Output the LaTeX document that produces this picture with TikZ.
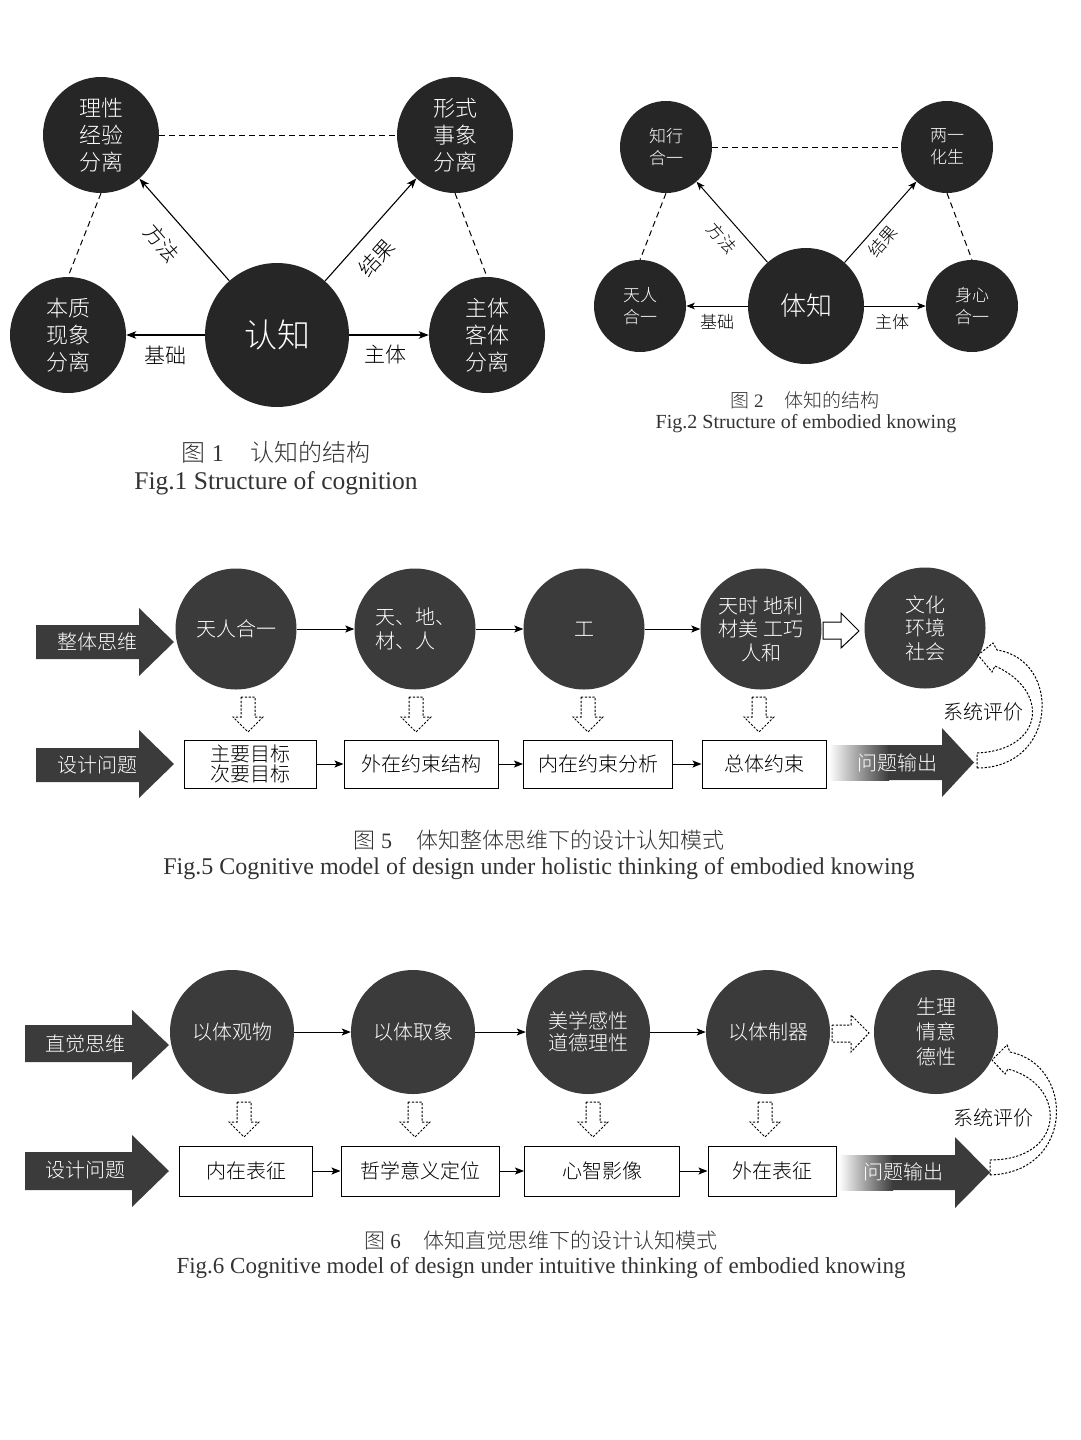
\documentclass[tikz,border=0pt]{standalone}
\usepackage{fontspec}
\usetikzlibrary{arrows.meta}
\setmainfont{Liberation Serif}
\IfFontExistsTF{Noto Sans CJK SC Light}
  {\newfontfamily\cjk{Noto Sans CJK SC Light}}
  {\newfontfamily\cjk{Noto Sans CJK SC}}
\newcommand\fs[2]{\fontsize{#1}{#2}\selectfont}
\definecolor{ink}{HTML}{262626}
\definecolor{disc}{HTML}{3B3B3B}
\definecolor{captxt}{HTML}{333333}

% hollow downward arrow with a dotted outline: centre x, top y
\newcommand\dnarrow[2]{%
  \draw[dotline] (#1-7,#2) -- (#1+7,#2) -- (#1+7,#2+20) -- (#1+15,#2+20)
    -- (#1,#2+35) -- (#1-15,#2+20) -- (#1-7,#2+20) -- cycle;}

\begin{document}
\begin{tikzpicture}[x=1pt,y=-1pt,
  disc1/.style={circle, fill=ink, text=white, inner sep=0pt, minimum size=116pt,
    align=center, font=\cjk\fs{22}{27}},
  disc2/.style={circle, fill=ink, text=white, inner sep=0pt, minimum size=92pt,
    align=center, font=\cjk\fs{17}{22}},
  disc5/.style={circle, fill=disc, text=white, inner sep=0pt, minimum size=121pt,
    align=center, font=\cjk\fs{20}{23.5}},
  lab1/.style={font=\cjk\fs{21}{24}, inner sep=0pt},
  lab2/.style={font=\cjk\fs{17}{20}, inner sep=0pt},
  lab5/.style={font=\cjk\fs{20}{22}, inner sep=1pt},
  whitelab/.style={font=\cjk\fs{20}{22}, text=white, inner sep=1pt},
  stepbox/.style={draw=black, line width=1pt, fill=white, inner sep=0pt,
    align=center, font=\cjk\fs{20}{20.5}},
  link1/.style={-{Stealth[length=10pt,width=7.5pt,inset=2.5pt]}, line width=1.1pt},
  link2/.style={-{Stealth[length=8.5pt,width=6.5pt,inset=2pt]}, line width=1pt},
  link5/.style={-{Stealth[length=9pt,width=7pt,inset=2pt]}, line width=1pt},
  dashlink/.style={line width=1pt, dash pattern=on 6pt off 4pt},
  dotline/.style={line width=1pt, dash pattern=on 2.2pt off 1.6pt},
  capzh/.style={text=captxt, inner sep=0pt},
  capen/.style={text=captxt, inner sep=0pt},
]
\useasboundingbox (0,0) rectangle (1080,1440);
\fill[white] (0,0) rectangle (1080,1440);

% ---------------- Fig. 1: structure of cognition ----------------
\node[disc1] (f1a) at (101,135) {理性\\经验\\分离};
\node[disc1] (f1b) at (455,135) {形式\\事象\\分离};
\node[disc1] (f1c) at (68,335) {本质\\现象\\分离};
\node[disc1, minimum size=144pt, font=\cjk\fs{33}{36}] (f1o) at (277,335) {认知};
\node[disc1] (f1d) at (487,335) {主体\\客体\\分离};
\draw[dashlink] (f1a) -- (f1b);
\draw[dashlink] (f1a.south) -- (f1c.north);
\draw[dashlink] (f1b.south) -- (f1d.north);
\draw[link1] (f1o) -- (f1a);
\draw[link1] (f1o) -- (f1b);
\draw[link1] (f1o) -- (f1c);
\draw[link1] (f1o) -- (f1d);
\node[lab1, rotate=-49] (l1a) at (162,243) {方法};
\node[lab1, rotate=48] (l1b) at (377,258) {结果};
\node[lab1] (l1c) at (165,355) {基础};
\node[lab1] (l1d) at (385,355) {主体};
\node[capzh] (k1a) at (276,452) {\fs{24}{28}{\cjk 图} 1\hspace{1.1em}{\cjk 认知的结构}};
\node[capen] (k1b) at (276,483) {\fs{25.5}{30}Fig.1 Structure of cognition};

% ---------------- Fig. 2: structure of embodied knowing ----------------
\node[disc2] (f2a) at (666,147) {知行\\合一};
\node[disc2] (f2b) at (947,147) {两一\\化生};
\node[disc2] (f2c) at (640,306) {天人\\合一};
\node[disc2, minimum size=116pt, font=\cjk\fs{26}{30}] (f2o) at (806,306) {体知};
\node[disc2] (f2d) at (972,306) {身心\\合一};
\draw[dashlink] (f2a) -- (f2b);
\draw[dashlink] (f2a.south) -- (f2c.north);
\draw[dashlink] (f2b.south) -- (f2d.north);
\draw[link2] (f2o) -- (f2a);
\draw[link2] (f2o) -- (f2b);
\draw[link2] (f2o) -- (f2c);
\draw[link2] (f2o) -- (f2d);
\node[lab2, rotate=-49] (l2a) at (722,238) {方法};
\node[lab2, rotate=49] (l2b) at (883,241) {结果};
\node[lab2] (l2c) at (717,322) {基础};
\node[lab2] (l2d) at (892,322) {主体};
\node[capzh] (k2a) at (805,400) {\fs{19}{22}{\cjk 图} 2\hspace{1.1em}{\cjk 体知的结构}};
\node[capen] (k2b) at (806,424) {\fs{20}{24}Fig.2 Structure of embodied knowing};

% ---------------- Fig. 5: holistic thinking ----------------
\fill[disc] (36,625) -- (139,625) -- (139,608) -- (174,642) -- (139,676) -- (139,659) -- (36,659) -- cycle;
\node[whitelab] (t5a) at (97,642) {整体思维};
\fill[disc] (36,748) -- (139,748) -- (139,730) -- (174,764) -- (139,798) -- (139,782) -- (36,782) -- cycle;
\node[whitelab] (t5b) at (97,765) {设计问题};

\node[disc5] (c5a) at (236,629) {天人合一};
\node[disc5, align=left] (c5b) at (415,629) {天、地、\\材、人};
\node[disc5] (c5c) at (584,629) {工};
\node[disc5] (c5d) at (761,629) {天时 地利\\材美 工巧\\人和};
\node[disc5] (c5e) at (925,628) {文化\\环境\\社会};
\draw[link5] (c5a) -- (c5b);
\draw[link5] (c5b) -- (c5c);
\draw[link5] (c5c) -- (c5d);
\draw[line width=1pt, fill=white] (823,622) -- (841,622) -- (841,613) -- (859,631)
  -- (841,648) -- (841,639) -- (823,639) -- cycle;

\dnarrow{248}{697}
\dnarrow{416}{697}
\dnarrow{588}{697}
\dnarrow{759}{697}

\node[stepbox, minimum width=132pt, minimum height=48pt] (b5a) at (250,764) {主要目标\\次要目标};
\node[stepbox, minimum width=154pt, minimum height=48pt] (b5b) at (421,764) {外在约束结构};
\node[stepbox, minimum width=149pt, minimum height=48pt] (b5c) at (598,764) {内在约束分析};
\node[stepbox, minimum width=124pt, minimum height=48pt] (b5d) at (764,764) {总体约束};
\draw[link5] (b5a) -- (b5b);
\draw[link5] (b5b) -- (b5c);
\draw[link5] (b5c) -- (b5d);

\shade[left color=white, right color=disc] (829,745) rectangle (889,780);
\fill[disc] (888.5,745) -- (942,745) -- (942,728) -- (974,762.5) -- (942,797) -- (942,780)
  -- (888.5,780) -- cycle;
\node[whitelab] (o5) at (897,763) {问题输出};
\node[lab5] (e5) at (983,712) {系统评价};
\draw[dotline] (977,768) .. controls (1058,768) and (1062,660) .. (997,650)
  -- (993,643) -- (978,655) -- (992,672) -- (995,666)
  .. controls (1050,690) and (1045,750) .. (977,753) -- cycle;

\node[capzh] (k5a) at (539,840) {\fs{22}{26}{\cjk 图} 5\hspace{1.1em}{\cjk 体知整体思维下的设计认知模式}};
\node[capen] (k5b) at (539,869) {\fs{24}{28}Fig.5 Cognitive model of design under holistic thinking of embodied knowing};

% ---------------- Fig. 6: intuitive thinking ----------------
\fill[disc] (25,1025) -- (132,1025) -- (132,1010) -- (169,1045) -- (132,1080) -- (132,1062) -- (25,1062) -- cycle;
\node[whitelab] (t6a) at (85,1044) {直觉思维};
\fill[disc] (25,1152) -- (132,1152) -- (132,1135) -- (169,1171) -- (132,1207) -- (132,1190) -- (25,1190) -- cycle;
\node[whitelab] (t6b) at (85,1170) {设计问题};

\node[disc5, minimum size=124pt] (c6a) at (232,1032) {以体观物};
\node[disc5, minimum size=124pt] (c6b) at (413,1032) {以体取象};
\node[disc5, minimum size=124pt, font=\cjk\fs{20}{22.5}] (c6c) at (588,1032) {美学感性\\道德理性};
\node[disc5, minimum size=124pt] (c6d) at (768,1032) {以体制器};
\node[disc5, minimum size=124pt, font=\cjk\fs{20}{25}] (c6e) at (936,1032) {生理\\情意\\德性};
\draw[link5] (c6a) -- (c6b);
\draw[link5] (c6b) -- (c6c);
\draw[link5] (c6c) -- (c6d);
\draw[dotline] (832,1025) -- (851,1025) -- (851,1015) -- (869,1033) -- (851,1052)
  -- (851,1042) -- (832,1042) -- cycle;

\dnarrow{244}{1102}
\dnarrow{415}{1102}
\dnarrow{593}{1102}
\dnarrow{765}{1102}

\node[stepbox, minimum width=133pt, minimum height=50pt] (b6a) at (246,1171) {内在表征};
\node[stepbox, minimum width=158pt, minimum height=50pt] (b6b) at (420,1171) {哲学意义定位};
\node[stepbox, minimum width=155pt, minimum height=50pt] (b6c) at (602,1171) {心智影像};
\node[stepbox, minimum width=128pt, minimum height=50pt] (b6d) at (772,1171) {外在表征};
\draw[link5] (b6a) -- (b6b);
\draw[link5] (b6b) -- (b6c);
\draw[link5] (b6c) -- (b6d);

\shade[left color=white, right color=disc] (839,1155) rectangle (893,1190);
\fill[disc] (892.5,1155) -- (955,1155) -- (955,1137) -- (990,1172.5) -- (955,1208) -- (955,1190)
  -- (892.5,1190) -- cycle;
\node[whitelab] (o6) at (903,1172) {问题输出};
\node[lab5] (e6) at (993,1118) {系统评价};
\draw[dotline] (990,1175) .. controls (1075,1172) and (1075,1065) .. (1010,1052)
  -- (1007,1045) -- (992,1060) -- (1005,1074) -- (1008,1069)
  .. controls (1068,1085) and (1066,1160) .. (990,1160) -- cycle;

\node[capzh] (k6a) at (541,1240) {\fs{21}{25}{\cjk 图} 6\hspace{1.1em}{\cjk 体知直觉思维下的设计认知模式}};
\node[capen] (k6b) at (541,1268) {\fs{23}{27}Fig.6 Cognitive model of design under intuitive thinking of embodied knowing};
\end{tikzpicture}
\end{document}
